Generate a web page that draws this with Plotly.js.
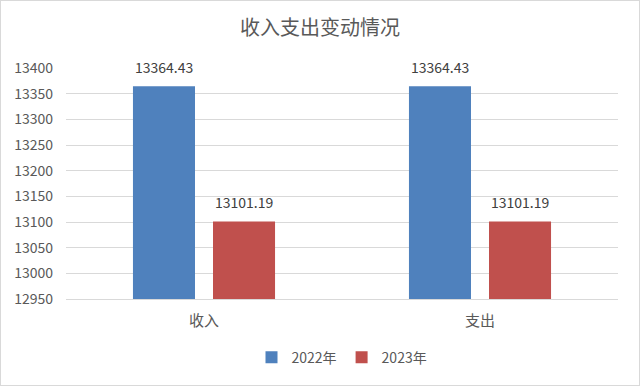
<!DOCTYPE html>
<html><head><meta charset="utf-8">
<script src="https://cdn.plot.ly/plotly-3.0.1.min.js"></script>
<style>html,body{margin:0;padding:0;background:#fff}#c{width:640px;height:386px;box-sizing:border-box;border:1px solid #d9d9d9}</style>
</head><body><div id="c"></div>
<script>
const categories = ['收入', '支出'];
const seriesNames = ['2022年', '2023年'];
const values2022 = [13364.43, 13364.43];
const values2023 = [13101.19, 13101.19];
const colors = ['#4f81bd', '#c0504d'];
const font = '"Noto Sans CJK SC", "Noto Sans", sans-serif';

const series = [values2022, values2023];
const traces = series.map((v, i) => ({
  type: 'bar', x: categories, y: v, name: seriesNames[i],
  marker: {color: colors[i]}, hoverinfo: 'none'
}));
const offsets = [-0.145, 0.145];
const annotations = [];
series.forEach((v, i) => v.forEach((val, j) => annotations.push({
  x: j + offsets[i], y: val, xref: 'x', yref: 'y', text: val.toFixed(2),
  showarrow: false, yanchor: 'bottom', yshift: 7,
  font: {family: font, size: 14, color: '#404040'}
})));

Plotly.newPlot('c', traces, {
  width: 638, height: 384,
  margin: {l: 65, r: 21, t: 67, b: 85},
  paper_bgcolor: '#fff', plot_bgcolor: '#fff',
  title: {text: '收入支出变动情况', x: 0.5, xanchor: 'center', y: 0.93, yanchor: 'middle',
    font: {family: font, size: 20, color: '#595959'}},
  barmode: 'group', bargap: 0.42, bargroupgap: 0.225,
  xaxis: {type: 'category', showgrid: false, showline: true, linecolor: '#d9d9d9', linewidth: 1,
    ticks: '', tickfont: {family: font, size: 15, color: '#595959'}, ticklabelstandoff: 8},
  yaxis: {range: [12950, 13400], dtick: 50, tick0: 12950, tickformat: 'd', showgrid: true, gridcolor: '#d9d9d9',
    zeroline: false, showline: false, ticks: '', ticklabelstandoff: 12,
    tickfont: {family: font, size: 14, color: '#595959'}},
  legend: {orientation: 'h', x: 0.5, xanchor: 'center', y: -0.18, yanchor: 'top',
    font: {family: font, size: 14, color: '#595959'}, itemwidth: 30, traceorder: 'normal'},
  annotations: annotations,
  showlegend: true
}, {displayModeBar: false, staticPlot: true});
</script></body></html>
